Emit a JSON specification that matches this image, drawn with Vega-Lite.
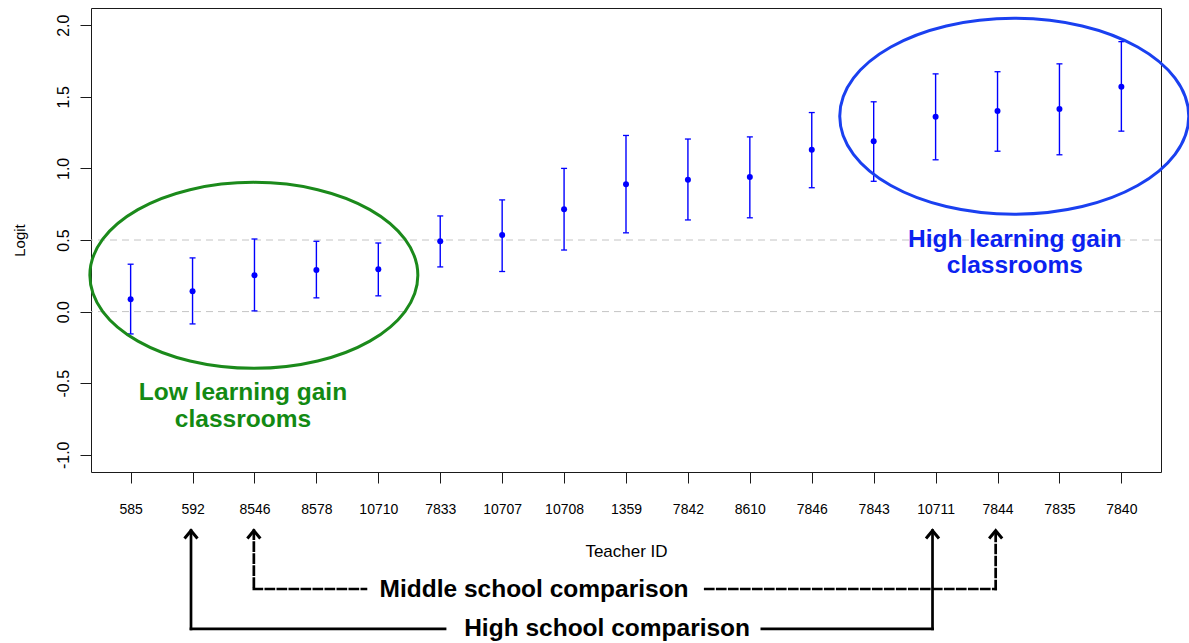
{
  "$schema": "https://vega.github.io/schema/vega-lite/v6.json",
  "width": 1070,
  "height": 464,
  "autosize": {"type": "none"},
  "padding": {"left": 91, "top": 8, "right": 28, "bottom": 171},
  "background": "white",
  "config": {
    "view": {"stroke": "#1a1a1a", "strokeWidth": 1},
    "font": "Liberation Sans",
    "axis": {
      "domain": false,
      "grid": false,
      "tickColor": "#1a1a1a",
      "tickWidth": 1,
      "tickSize": 11,
      "labelColor": "#000000",
      "titleColor": "#000000",
      "labelFont": "Liberation Sans",
      "titleFont": "Liberation Sans",
      "titleFontWeight": "normal"
    }
  },
  "datasets": {
    "est": [
      {"x": 1, "teacher": "585", "y": 0.087, "lo": -0.156, "hi": 0.331},
      {"x": 2, "teacher": "592", "y": 0.142, "lo": -0.086, "hi": 0.375},
      {"x": 3, "teacher": "8546", "y": 0.254, "lo": 0.005, "hi": 0.507},
      {"x": 4, "teacher": "8578", "y": 0.291, "lo": 0.096, "hi": 0.491},
      {"x": 5, "teacher": "10710", "y": 0.296, "lo": 0.11, "hi": 0.479},
      {"x": 6, "teacher": "7833", "y": 0.491, "lo": 0.312, "hi": 0.668},
      {"x": 7, "teacher": "10707", "y": 0.535, "lo": 0.28, "hi": 0.78},
      {"x": 8, "teacher": "10708", "y": 0.715, "lo": 0.43, "hi": 1.0},
      {"x": 9, "teacher": "1359", "y": 0.89, "lo": 0.55, "hi": 1.23},
      {"x": 10, "teacher": "7842", "y": 0.92, "lo": 0.64, "hi": 1.205},
      {"x": 11, "teacher": "8610", "y": 0.94, "lo": 0.655, "hi": 1.22},
      {"x": 12, "teacher": "7846", "y": 1.13, "lo": 0.865, "hi": 1.39},
      {"x": 13, "teacher": "7843", "y": 1.19, "lo": 0.91, "hi": 1.465},
      {"x": 14, "teacher": "10711", "y": 1.36, "lo": 1.06, "hi": 1.66},
      {"x": 15, "teacher": "7844", "y": 1.4, "lo": 1.12, "hi": 1.675},
      {"x": 16, "teacher": "7835", "y": 1.415, "lo": 1.095, "hi": 1.73},
      {"x": 17, "teacher": "7840", "y": 1.57, "lo": 1.26, "hi": 1.885}
    ],
    "grid": [{"y": 0}, {"y": 0.5}],
    "greenEllipse": [{"x": 2.99, "y": 0.253}],
    "blueEllipse": [{"x": 15.27, "y": 1.364}],
    "labels": [
      {"x": 2.814, "y": -0.616, "label": "Low learning gain", "grp": "low"},
      {"x": 2.814, "y": -0.805, "label": "classrooms", "grp": "low"},
      {"x": 15.28, "y": 0.454, "label": "High learning gain", "grp": "high"},
      {"x": 15.28, "y": 0.268, "label": "classrooms", "grp": "high"},
      {"x": 7.515, "y": -1.991, "label": "Middle school comparison", "grp": "cmp"},
      {"x": 8.695, "y": -2.267, "label": "High school comparison", "grp": "cmp"}
    ],
    "segments": [
      {"x": 1.975, "y": -1.53, "x2": 1.975, "y2": -2.216, "s": "solid"},
      {"x": 1.975, "y": -2.216, "x2": 6.078, "y2": -2.216, "s": "solid"},
      {"x": 11.194, "y": -2.216, "x2": 13.95, "y2": -2.216, "s": "solid"},
      {"x": 13.95, "y": -2.216, "x2": 13.95, "y2": -1.53, "s": "solid"},
      {"x": 2.99, "y": -1.53, "x2": 2.99, "y2": -1.937, "s": "dashed"},
      {"x": 2.99, "y": -1.937, "x2": 4.8, "y2": -1.937, "s": "dashed"},
      {"x": 10.28, "y": -1.937, "x2": 14.97, "y2": -1.937, "s": "dashed"},
      {"x": 14.97, "y": -1.937, "x2": 14.97, "y2": -1.53, "s": "dashed"}
    ],
    "heads": [
      {"x": 1.975, "y": -1.53},
      {"x": 2.99, "y": -1.53},
      {"x": 13.95, "y": -1.53},
      {"x": 14.97, "y": -1.53}
    ]
  },
  "layer": [
    {
      "data": {"name": "grid"},
      "mark": {"type": "rule", "color": "#c4c4c4", "strokeWidth": 1, "strokeDash": [7, 5]},
      "encoding": {
        "y": {
          "field": "y", "type": "quantitative",
          "scale": {"domain": [-1.12, 2.12], "nice": false, "zero": false},
          "axis": {
            "values": [-1, -0.5, 0, 0.5, 1, 1.5, 2],
            "labelExpr": "datum.value < 0 ? '-' + format(-datum.value, '.1f') : format(datum.value, '.1f')",
            "labelAngle": 270,
            "labelAlign": "center",
            "labelBaseline": "alphabetic",
            "labelFontSize": 16,
            "labelPadding": 12,
            "title": "Logit",
            "titleFontSize": 15,
            "titlePadding": 28
          }
        }
      }
    },
    {
      "data": {"name": "est"},
      "mark": {"type": "rule", "color": "#0000ff", "strokeWidth": 1.4},
      "encoding": {
        "x": {
          "field": "x", "type": "quantitative",
          "scale": {"domain": [0.36, 17.64], "nice": false, "zero": false},
          "axis": {
            "values": [1, 2, 3, 4, 5, 6, 7, 8, 9, 10, 11, 12, 13, 14, 15, 16, 17],
            "labelExpr": "['585','592','8546','8578','10710','7833','10707','10708','1359','7842','8610','7846','7843','10711','7844','7835','7840'][datum.value - 1]",
            "labelFontSize": 14,
            "labelPadding": 19,
            "labelBaseline": "top",
            "title": "Teacher ID",
            "titleFontSize": 17,
            "titlePadding": 27
          }
        },
        "y": {"field": "lo", "type": "quantitative", "scale": {"domain": [-1.12, 2.12], "nice": false, "zero": false}},
        "y2": {"field": "hi"}
      }
    },
    {
      "data": {"name": "est"},
      "mark": {"type": "tick", "orient": "horizontal", "color": "#0000ff", "size": 6, "thickness": 1.3, "opacity": 1},
      "encoding": {
        "x": {"field": "x", "type": "quantitative", "scale": {"domain": [0.36, 17.64], "nice": false, "zero": false}},
        "y": {"field": "lo", "type": "quantitative", "scale": {"domain": [-1.12, 2.12], "nice": false, "zero": false}}
      }
    },
    {
      "data": {"name": "est"},
      "mark": {"type": "tick", "orient": "horizontal", "color": "#0000ff", "size": 6, "thickness": 1.3, "opacity": 1},
      "encoding": {
        "x": {"field": "x", "type": "quantitative", "scale": {"domain": [0.36, 17.64], "nice": false, "zero": false}},
        "y": {"field": "hi", "type": "quantitative", "scale": {"domain": [-1.12, 2.12], "nice": false, "zero": false}}
      }
    },
    {
      "data": {"name": "est"},
      "mark": {"type": "point", "filled": true, "color": "#0000ff", "size": 36, "opacity": 1},
      "encoding": {
        "x": {"field": "x", "type": "quantitative", "scale": {"domain": [0.36, 17.64], "nice": false, "zero": false}},
        "y": {"field": "y", "type": "quantitative", "scale": {"domain": [-1.12, 2.12], "nice": false, "zero": false}}
      }
    },
    {
      "data": {"name": "greenEllipse"},
      "mark": {
        "type": "point", "filled": false, "stroke": "#1b8a1b", "strokeWidth": 3, "opacity": 1, "size": 40000,
        "shape": "M 1.64 0 C 1.64 0.514 0.906 0.93 0 0.93 C -0.906 0.93 -1.64 0.514 -1.64 0 C -1.64 -0.514 -0.906 -0.93 0 -0.93 C 0.906 -0.93 1.64 -0.514 1.64 0 Z"
      },
      "encoding": {
        "x": {"field": "x", "type": "quantitative", "scale": {"domain": [0.36, 17.64], "nice": false, "zero": false}},
        "y": {"field": "y", "type": "quantitative", "scale": {"domain": [-1.12, 2.12], "nice": false, "zero": false}}
      }
    },
    {
      "data": {"name": "blueEllipse"},
      "mark": {
        "type": "point", "filled": false, "stroke": "#1a40f0", "strokeWidth": 3, "opacity": 1, "size": 40000,
        "shape": "M 1.745 0 C 1.745 0.541 0.964 0.98 0 0.98 C -0.964 0.98 -1.745 0.541 -1.745 0 C -1.745 -0.541 -0.964 -0.98 0 -0.98 C 0.964 -0.98 1.745 -0.541 1.745 0 Z"
      },
      "encoding": {
        "x": {"field": "x", "type": "quantitative", "scale": {"domain": [0.36, 17.64], "nice": false, "zero": false}},
        "y": {"field": "y", "type": "quantitative", "scale": {"domain": [-1.12, 2.12], "nice": false, "zero": false}}
      }
    },
    {
      "data": {"name": "labels"},
      "mark": {"type": "text", "fontWeight": "bold", "fontSize": 24.5, "align": "center", "baseline": "alphabetic", "font": "Liberation Sans"},
      "encoding": {
        "x": {"field": "x", "type": "quantitative", "scale": {"domain": [0.36, 17.64], "nice": false, "zero": false}},
        "y": {"field": "y", "type": "quantitative", "scale": {"domain": [-1.12, 2.12], "nice": false, "zero": false}},
        "text": {"field": "label"},
        "color": {"field": "grp", "type": "nominal", "scale": {"domain": ["low", "high", "cmp"], "range": ["#138a13", "#0b22f0", "#000000"]}, "legend": null}
      }
    },
    {
      "data": {"name": "segments"},
      "mark": {"type": "rule", "color": "#000000", "strokeWidth": 2.7, "strokeCap": "square"},
      "encoding": {
        "x": {"field": "x", "type": "quantitative", "scale": {"domain": [0.36, 17.64], "nice": false, "zero": false}},
        "y": {"field": "y", "type": "quantitative", "scale": {"domain": [-1.12, 2.12], "nice": false, "zero": false}},
        "x2": {"field": "x2"},
        "y2": {"field": "y2"},
        "strokeDash": {"field": "s", "type": "nominal", "scale": {"domain": ["solid", "dashed"], "range": [[1, 0], [8, 4]]}, "legend": null}
      }
    },
    {
      "data": {"name": "heads"},
      "mark": {"type": "point", "filled": false, "stroke": "#000000", "strokeWidth": 3, "opacity": 1, "size": 169, "shape": "M -1 1.2 L 0 0 L 1 1.2"},
      "encoding": {
        "x": {"field": "x", "type": "quantitative", "scale": {"domain": [0.36, 17.64], "nice": false, "zero": false}},
        "y": {"field": "y", "type": "quantitative", "scale": {"domain": [-1.12, 2.12], "nice": false, "zero": false}}
      }
    }
  ]
}
